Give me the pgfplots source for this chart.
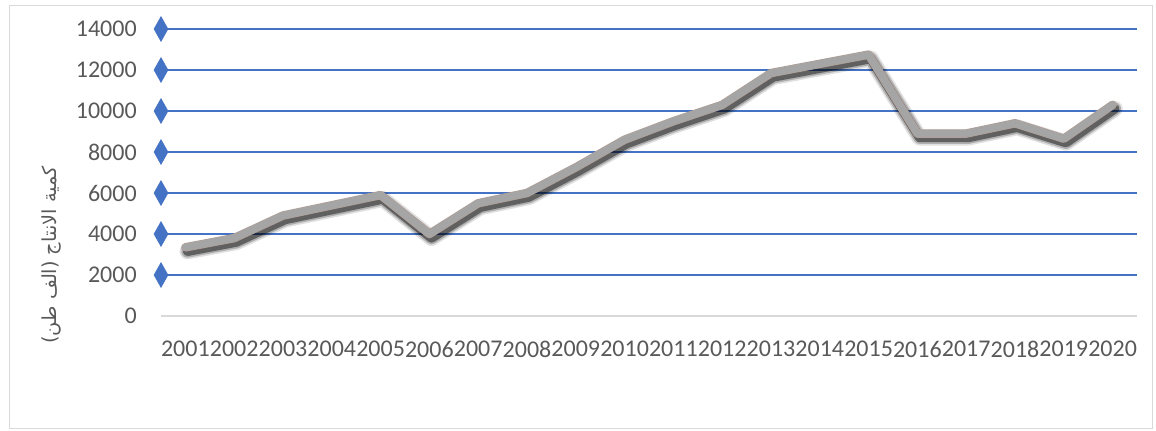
\documentclass[border=0pt]{standalone}
\usepackage{fontspec}
\usepackage{pgfplots}
\pgfplotsset{compat=1.18}
\setmainfont{Carlito}
\newfontfamily\arabicfont[Script=Arabic]{DejaVu Sans}
\TeXXeTstate=1

\definecolor{gridblue}{HTML}{4472C4}
\definecolor{labelgray}{HTML}{595959}
\definecolor{axisgray}{HTML}{D9D9D9}
\definecolor{linegray}{HTML}{A5A5A5}
\definecolor{lineedge}{HTML}{B39C92}

% production, thousand tonnes
\pgfplotstableread{
idx value
0  3350
1  3800
2  4900
3  5400
4  5900
5  4000
6  5500
7  6000
8  7250
9  8600
10 9500
11 10300
12 11850
13 12300
14 12750
15 8900
16 8900
17 9400
18 8650
19 10300
}\production

\pgfplotsset{
  shadowline/.style={black, opacity=#1, line join=round, line cap=round,
    transform canvas={shift={(1.6pt,-3pt)}}},
}

\begin{document}
\begin{tikzpicture}
\path[use as bounding box] (0,0) rectangle (867pt,322.5pt);
\draw[axisgray, line width=0.75pt] (6.75pt,1.5pt) rectangle (864pt,318.75pt);
\begin{axis}[
  at={(120.75pt,85.5pt)}, anchor=south west,
  scale only axis, width=732pt, height=215.25pt,
  xmin=-0.5, xmax=19.5, ymin=0, ymax=14000,
  clip=false,
  separate axis lines,
  axis x line*=bottom, axis y line*=left,
  x axis line style={draw=axisgray, line width=1.6pt, -},
  y axis line style={draw=none},
  xtick={0,...,19},
  xticklabels={2001,2002,2003,2004,2005,2006,2007,2008,2009,2010,2011,2012,2013,2014,2015,2016,2017,2018,2019,2020},
  ytick={2000,4000,...,14000},
  extra y ticks={0}, extra y tick style={grid=none},
  scaled y ticks=false,
  ymajorgrids,
  major grid style={draw=gridblue, line width=1.1pt},
  major tick length=0pt,
  tick style={draw=none},
  /pgf/number format/1000 sep={},
  /pgf/number format/assume math mode=true,
  tick label style={font=\fontsize{18}{20}\selectfont, color=labelgray},
  yticklabel style={anchor=east, inner sep=0pt, xshift=-18pt},
  xticklabel style={anchor=north, inner sep=0pt, yshift=-18.75pt},
  ylabel={\arabicfont\beginR كمية الانتاج (الف طن)\endR},
  ylabel style={at={(rel axis cs:-0.1117,0.2125)}, anchor=center, rotate=0,
    font=\fontsize{14.5}{16}\selectfont, color=labelgray},
]
% soft shadow under the line
\addplot[shadowline=0.12, line width=12pt] table[x=idx, y=value] {\production};
\addplot[shadowline=0.22, line width=9.5pt] table[x=idx, y=value] {\production};
\addplot[shadowline=0.45, line width=7pt] table[x=idx, y=value] {\production};
% the series itself
\addplot[lineedge, line width=6.4pt, line join=round, line cap=round] table[x=idx, y=value] {\production};
\addplot[linegray, line width=5.6pt, line join=round, line cap=round] table[x=idx, y=value] {\production};
% diamond markers along the value axis
\addplot[only marks, mark=diamond*, mark size=9.3pt, mark options={fill=gridblue, draw=gridblue, xscale=0.75}] coordinates {
  (-0.5,2000) (-0.5,4000) (-0.5,6000) (-0.5,8000) (-0.5,10000) (-0.5,12000) (-0.5,14000)
};
\end{axis}
\end{tikzpicture}
\end{document}
